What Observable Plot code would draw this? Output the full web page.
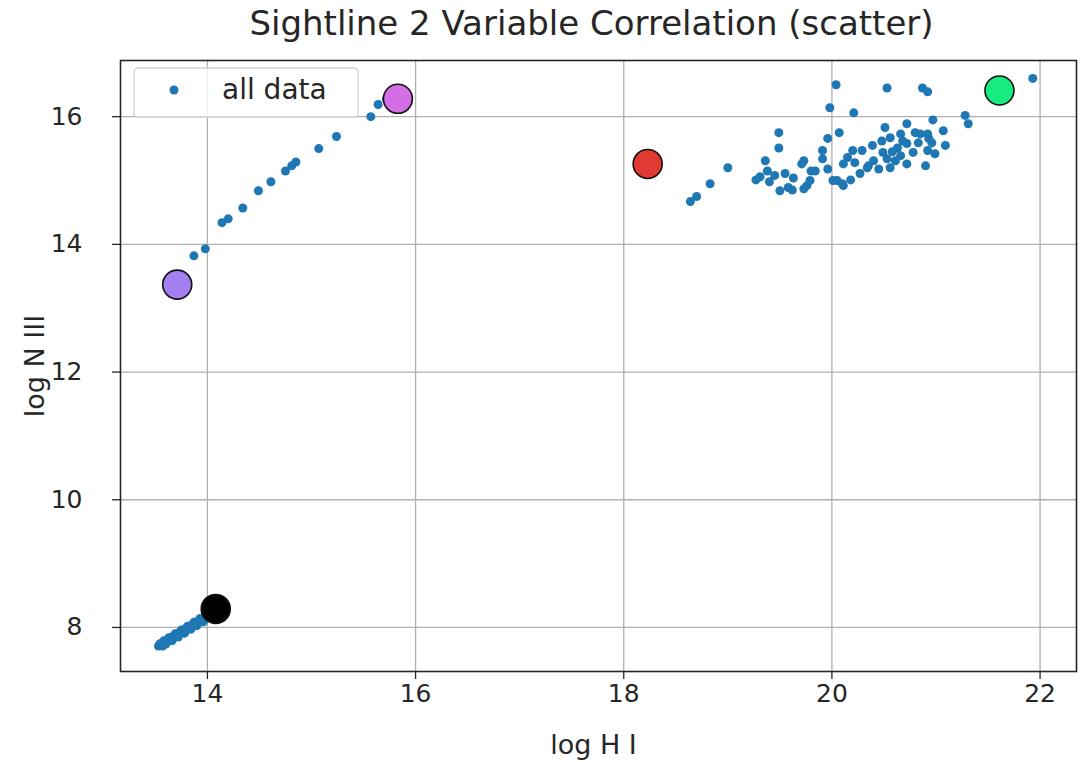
<!DOCTYPE html>
<html>
<head>
<meta charset="utf-8">
<script src="https://cdn.jsdelivr.net/npm/d3@7"></script>
<script src="https://cdn.jsdelivr.net/npm/@observablehq/plot@0.6"></script>
<style>
  html, body { margin: 0; padding: 0; background: #fff; }
  #chart svg { display: block; font-family: "DejaVu Sans", sans-serif; }
</style>
</head>
<body>
<div id="chart"></div>
<script>
// ---- data ----
const titleText = "Sightline 2 Variable Correlation (scatter)";
const xLabel = "log H I";
const yLabel = "log N III";
const legendLabel = "all data";
const xTicks = [14, 16, 18, 20, 22];
const yTicks = [8, 10, 12, 14, 16];

// dense low cluster (bottom left)
const lowX = [13.53, 13.56, 13.58, 13.60, 13.62, 13.65, 13.68, 13.71, 13.74, 13.77, 13.80, 13.83, 13.86, 13.89, 13.92, 13.95, 13.98, 14.01,
              13.55, 13.58, 13.63, 13.69, 13.75, 13.81, 13.87, 13.93, 13.99,
              13.57, 13.60, 13.66, 13.72, 13.78, 13.84, 13.90, 13.96,
              13.54, 13.59, 13.64, 13.67, 13.70, 13.73, 13.76, 13.79, 13.82, 13.85, 13.88, 13.91, 13.94, 13.97];
const lowY = [7.71, 7.74, 7.75, 7.78, 7.80, 7.82, 7.85, 7.88, 7.91, 7.94, 7.97, 8.00, 8.03, 8.06, 8.09, 8.12, 8.15, 8.18,
              7.75, 7.79, 7.84, 7.90, 7.96, 8.02, 8.08, 8.14, 8.20,
              7.71, 7.74, 7.79, 7.85, 7.91, 7.97, 8.03, 8.09,
              7.73, 7.77, 7.83, 7.86, 7.89, 7.92, 7.95, 7.98, 8.01, 8.04, 8.07, 8.10, 8.13, 8.16];

// upper-left diagonal chain
const upperX = [13.87, 13.98, 14.14, 14.20, 14.34, 14.49, 14.61, 14.75, 14.81, 14.85, 15.07, 15.24, 15.57, 15.64, 15.72];
const upperY = [13.82, 13.93, 14.34, 14.40, 14.57, 14.84, 14.98, 15.15, 15.23, 15.29, 15.50, 15.69, 16.00, 16.19, 16.28];

// right cloud
const rightX = [18.64, 18.70, 18.83, 19.00, 19.27, 19.31, 19.36, 19.38, 19.49, 19.49, 19.50, 19.55, 19.58, 19.63, 19.71, 19.73, 19.76, 19.80, 19.73, 19.84, 19.79, 19.91, 19.91, 19.96, 19.96, 19.98, 20.04, 20.07, 20.01, 20.05, 20.11, 20.10, 20.15, 20.20, 20.21, 20.29, 20.27, 20.18, 20.11, 20.22, 20.34, 20.35, 20.40, 20.45, 20.48, 20.49, 20.51, 20.53, 20.53, 20.56, 20.56, 20.63, 20.66, 20.66, 20.72, 20.72, 20.72, 20.78, 20.80, 20.83, 20.85, 20.87, 20.92, 20.90, 20.92, 20.92, 20.93, 20.96, 20.97, 20.99, 21.07, 21.09, 21.28, 21.31, 21.93, 20.39, 20.61, 19.40, 19.45, 19.62, 20.58, 20.68];
const rightY = [14.67, 14.75, 14.95, 15.20, 15.01, 15.06, 15.31, 15.15, 15.75, 15.51, 14.84, 15.11, 14.89, 15.04, 15.26, 14.87, 14.92, 15.15, 15.31, 15.15, 15.00, 15.47, 15.34, 15.66, 15.18, 16.14, 16.50, 15.75, 15.00, 15.00, 14.92, 14.95, 15.36, 15.47, 16.06, 15.47, 15.11, 15.01, 15.26, 15.28, 15.20, 15.23, 15.31, 15.18, 15.62, 15.44, 15.83, 16.45, 15.34, 15.67, 15.20, 15.51, 15.73, 15.39, 15.89, 15.58, 15.26, 15.44, 15.75, 15.59, 15.73, 16.45, 16.39, 15.23, 15.73, 15.47, 15.66, 15.59, 15.95, 15.42, 15.78, 15.55, 16.02, 15.89, 16.60, 15.55, 15.31, 14.98, 15.08, 14.85, 15.45, 15.62];

// highlighted markers
const markerX = [14.08, 13.71, 15.83, 18.23, 21.61];
const markerY = [8.29, 13.37, 16.28, 15.26, 16.41];
const markerColor = ["#000000", "#a37ff0", "#d46ee6", "#e03a33", "#17ec80"];

// ---- build tables ----
const allX = [...lowX, ...upperX, ...rightX];
const allY = [...lowY, ...upperY, ...rightY];
const points = allX.map((x, i) => ({x, y: allY[i]}));
const markers = markerX.map((x, i) => ({x, y: markerY[i], c: markerColor[i]}));

const blue = "#1f77b4";
const gridColor = "#b0b0b0";
const ink = "#262626";

const chart = Plot.plot({
  width: 1080,
  height: 762,
  marginTop: 60,
  marginBottom: 91,
  marginLeft: 120,
  marginRight: 4,
  style: {fontFamily: "DejaVu Sans, sans-serif", color: ink, background: "#fff"},
  x: {domain: [13.165, 22.35]},
  y: {domain: [7.31, 16.88]},
  marks: [
    Plot.gridX(xTicks, {stroke: gridColor, strokeOpacity: 1, strokeWidth: 1.3}),
    Plot.gridY(yTicks, {stroke: gridColor, strokeOpacity: 1, strokeWidth: 1.3}),
    Plot.axisX(xTicks, {tickSize: 8, tickPadding: 5, fontSize: 25, stroke: ink, strokeWidth: 1.3,
      tickFormat: d => String(d), label: null}),
    Plot.axisY(yTicks, {tickSize: 8, tickPadding: 30, fontSize: 25, stroke: ink, strokeWidth: 1.3,
      tickFormat: d => String(d), label: null}),
    Plot.dot(points, {x: "x", y: "y", r: 4.5, fill: blue, stroke: "none"}),
    Plot.dot(markers, {x: "x", y: "y", r: 14.5, fill: "c", stroke: "#111", strokeWidth: 1.6}),
    Plot.frame({stroke: ink, strokeWidth: 1.6}),
    Plot.text([titleText], {frameAnchor: "top", dy: -50, dx: -7, fontSize: 34, fill: ink}),
    Plot.text([xLabel], {frameAnchor: "bottom", dy: 82, dx: -5, fontSize: 27, fill: ink}),
    Plot.text([yLabel], {frameAnchor: "left", dx: -85, rotate: -90, textAnchor: "middle", fontSize: 27, fill: ink})
  ]
});

document.getElementById("chart").appendChild(chart);

// legend box (matplotlib style, upper left)
const svg = d3.select(chart);
const lg = svg.append("g").attr("text-anchor", "start");
lg.append("rect").attr("x", 134).attr("y", 68).attr("width", 224).attr("height", 49)
  .attr("rx", 4).attr("fill", "#fff").attr("fill-opacity", 0.8)
  .attr("stroke", "#d0d0d0").attr("stroke-width", 1.3);
lg.append("circle").attr("cx", 174).attr("cy", 90).attr("r", 4.5).attr("fill", blue);
lg.append("text").attr("x", 222).attr("y", 91).attr("dominant-baseline", "middle")
  .attr("text-anchor", "start").attr("font-size", 28).attr("fill", ink).text(legendLabel);
</script>
</body>
</html>
